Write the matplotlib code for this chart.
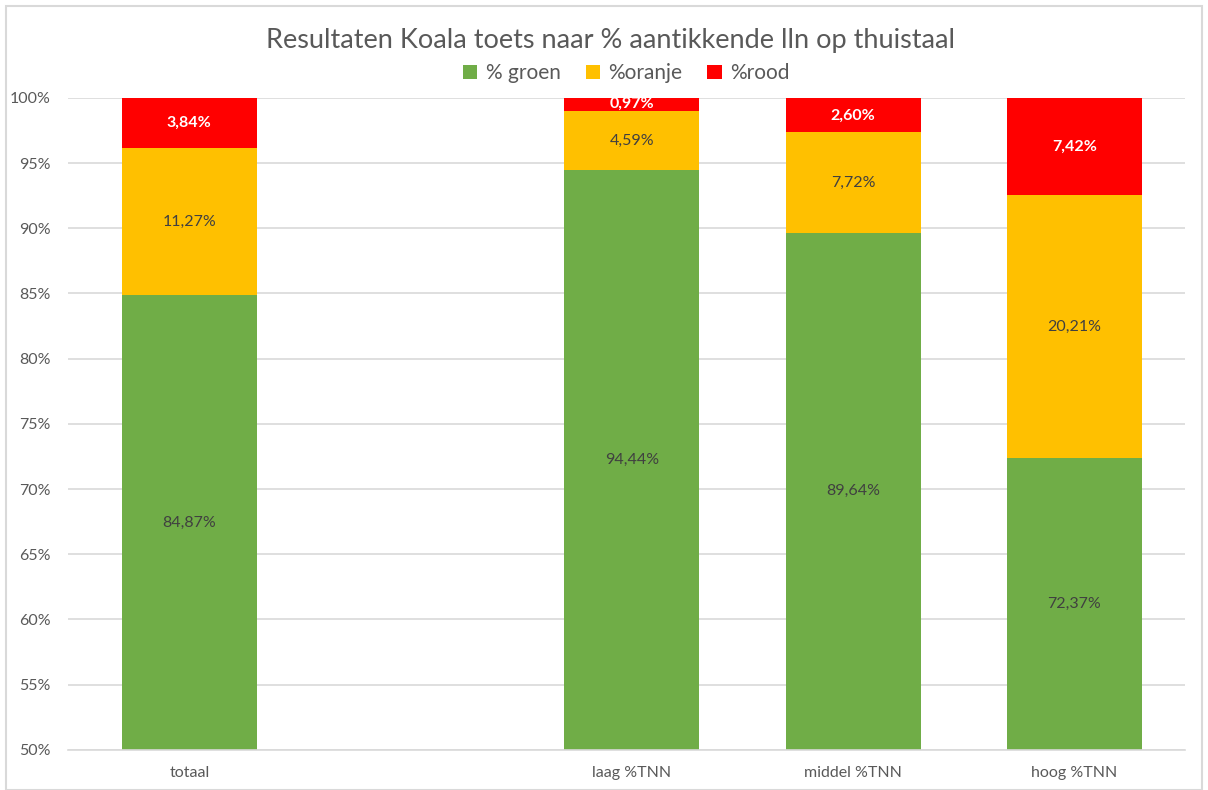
import matplotlib
matplotlib.use('Agg')
import matplotlib.pyplot as plt
from matplotlib.patches import Rectangle
import numpy as np

plt.rcParams['font.family'] = ['Lato', 'DejaVu Sans']

categories = ['totaal', '', 'laag %TNN', 'middel %TNN', 'hoog %TNN']
groen = [84.87, np.nan, 94.44, 89.64, 72.37]
oranje = [11.27, np.nan, 4.59, 7.72, 20.21]
rood = [3.84, np.nan, 0.97, 2.60, 7.42]
series_names = ['% groen', '%oranje', '%rood']
colors = ['#70AD47', '#FFC000', '#FF0000']
label_colors = ['#404040', '#404040', 'white']
yticks = list(range(50, 101, 5))

fig = plt.figure(figsize=(12.08, 7.9), dpi=100)
ax = fig.add_axes([0.056, 0.051, 0.925, 0.825])
ymin, ymax = 50, 100

x = np.arange(len(categories))
bottom = np.zeros(len(categories))
for vals, name, col, lcol in zip([groen, oranje, rood], series_names, colors, label_colors):
    vals = np.array(vals, dtype=float)
    ax.bar(x, np.nan_to_num(vals), bottom=bottom, width=0.61, color=col,
           label=name, zorder=2)
    for i, v in enumerate(vals):
        if np.isnan(v):
            continue
        lo = max(bottom[i], ymin)
        hi = min(bottom[i] + v, ymax)
        weight = 'bold' if lcol == 'white' else 'normal'
        ax.text(x[i], (lo + hi) / 2, f'{v:.2f}%'.replace('.', ','),
                ha='center', va='center', fontsize=11.5, color=lcol,
                fontweight=weight, zorder=3)
    bottom = bottom + np.nan_to_num(vals)

ax.set_ylim(ymin, ymax)
ax.set_xlim(-0.55, 4.5)
ax.set_yticks(yticks)
ax.set_yticklabels([f'{t}%' for t in yticks])
ax.set_xticks(x)
ax.set_xticklabels(categories)
ax.yaxis.grid(True, color='#D9D9D9', linewidth=1.2, zorder=0)
ax.set_axisbelow(True)
for s in ['top', 'right', 'left']:
    ax.spines[s].set_visible(False)
ax.spines['bottom'].set_color('#D9D9D9')
ax.spines['bottom'].set_linewidth(1.2)
ax.tick_params(axis='both', length=0, colors='#595959', labelsize=11.5)
ax.tick_params(axis='y', pad=12)
ax.tick_params(axis='x', pad=12)

fig.text(0.505, 0.949, 'Resultaten Koala toets naar % aantikkende lln op thuistaal',
         ha='center', va='center', fontsize=19.5, color='#595959')
ax.legend(loc='center', bbox_to_anchor=(0.5, 1.038), ncol=3, frameon=False,
          fontsize=15, labelcolor='#595959', handlelength=0.7, handleheight=0.7,
          columnspacing=1.2, handletextpad=0.4)

fig.patches.append(Rectangle((0.005, 0.0), 0.99, 0.993, transform=fig.transFigure,
                             fill=False, edgecolor='#D9D9D9', linewidth=1.5))

fig.savefig('out.png', dpi=100)
